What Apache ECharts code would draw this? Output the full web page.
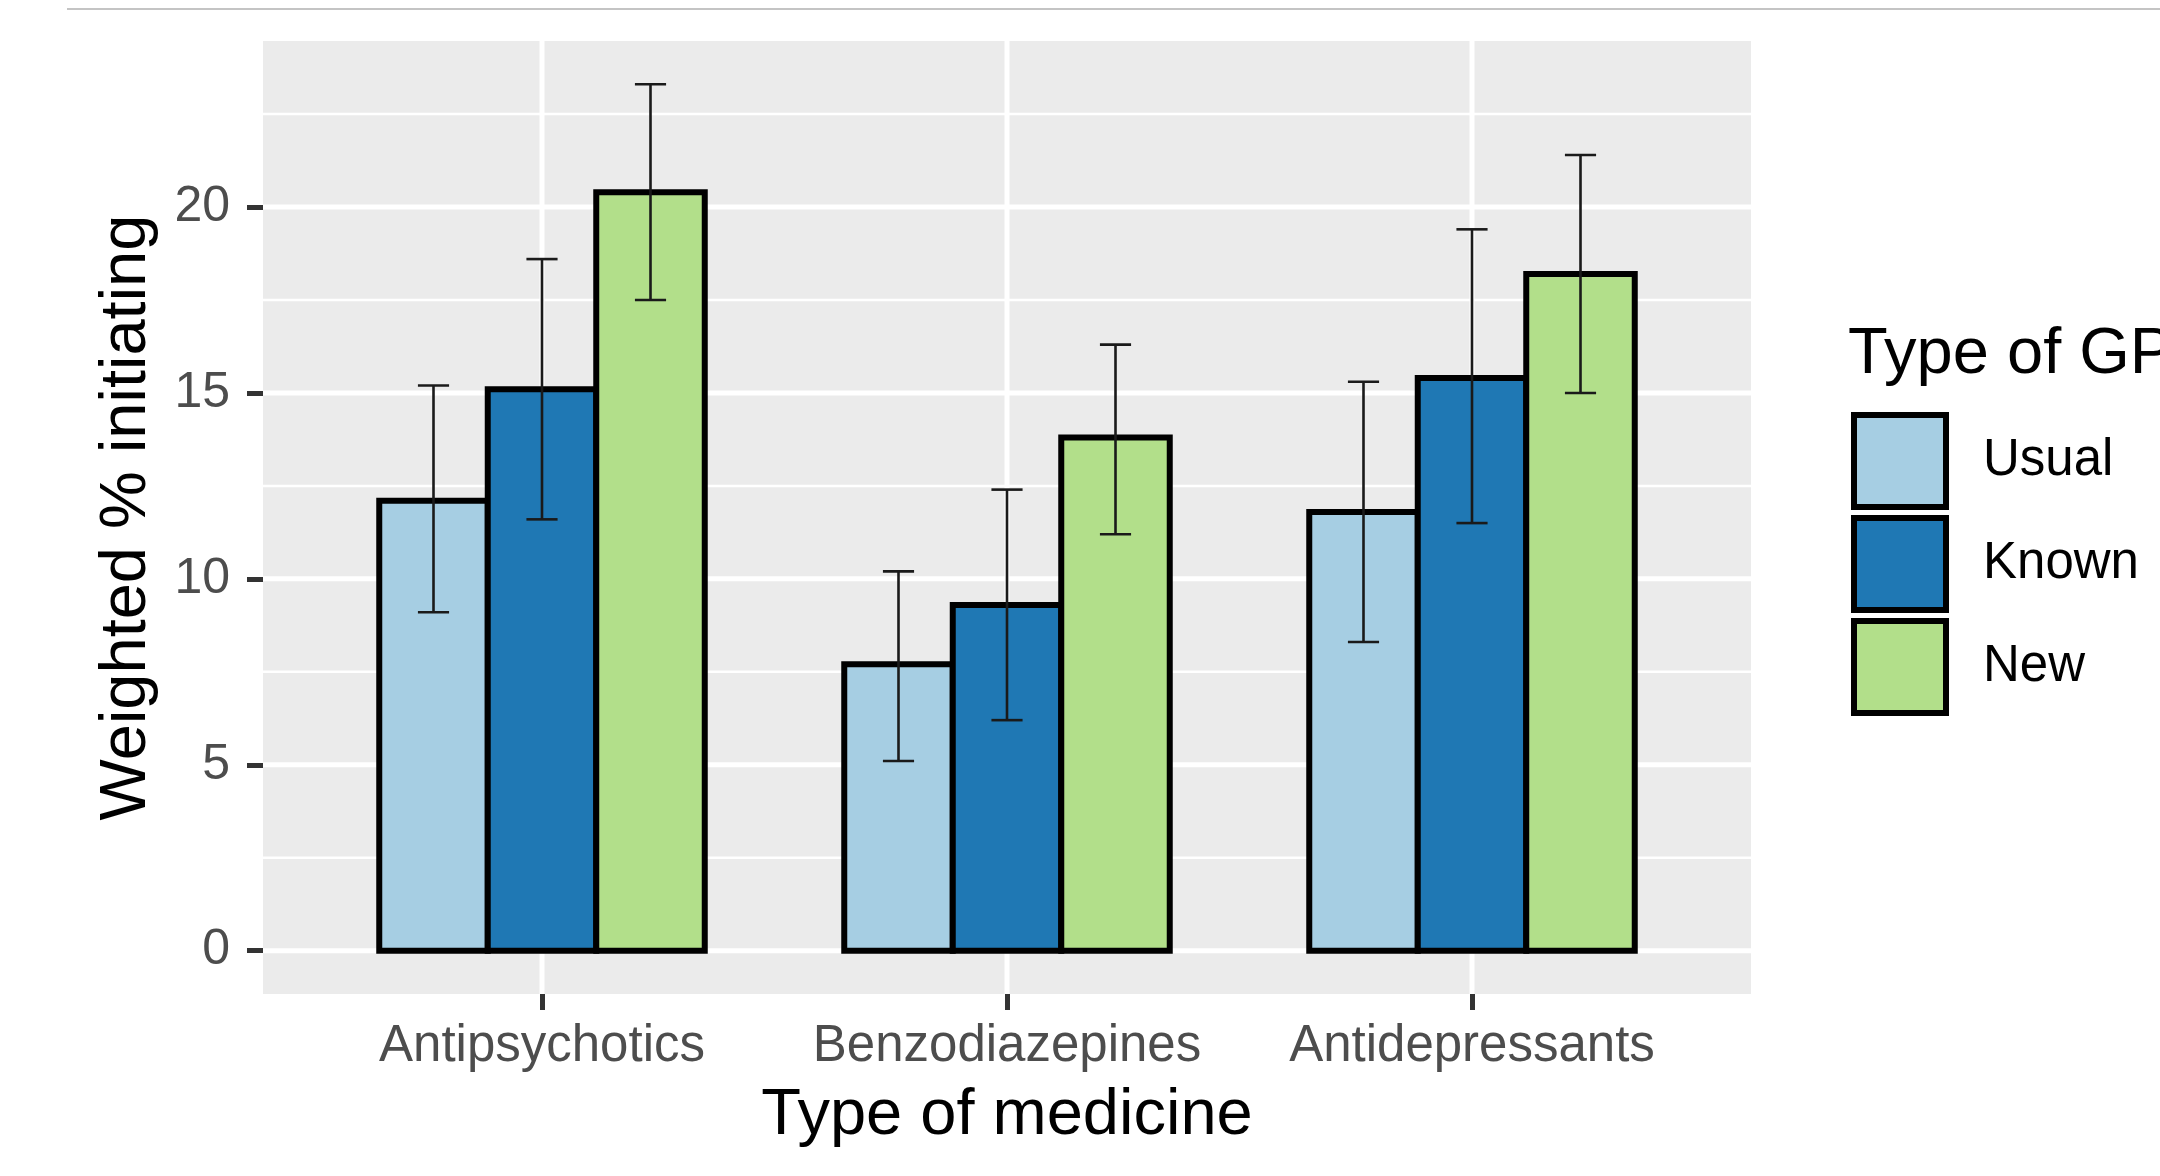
<!DOCTYPE html>
<html><head><meta charset="utf-8">
<script src="https://cdn.jsdelivr.net/npm/echarts@6/dist/echarts.min.js"></script>
<style>html,body{margin:0;padding:0;background:#fff}#c{width:2160px;height:1176px}</style>
</head><body><div id="c"></div>
<script>
const categories = ['Antipsychotics', 'Benzodiazepines', 'Antidepressants'];
const groups = ['Usual', 'Known', 'New'];
const usual = [12.1, 7.7, 11.8];
const usualLow = [9.1, 5.1, 8.3];
const usualHigh = [15.2, 10.2, 15.3];
const known = [15.1, 9.3, 15.4];
const knownLow = [11.6, 6.2, 11.5];
const knownHigh = [18.6, 12.4, 19.4];
const newGP = [20.4, 13.8, 18.2];
const newLow = [17.5, 11.2, 15.0];
const newHigh = [23.3, 16.3, 21.4];
const yTicks = [0, 5, 10, 15, 20];
const yMinorTicks = [2.5, 7.5, 12.5, 17.5, 22.5];
const xTicks = [1, 2, 3];

const FONT = '"Liberation Sans", Arial, sans-serif';
const colors = ['#A6CEE3', '#1F78B4', '#B2DF8A'];
const seriesVals = [[usual, usualLow, usualHigh], [known, knownLow, knownHigh], [newGP, newLow, newHigh]];
const maxErr = Math.max(...usualHigh, ...knownHigh, ...newHigh);
const yMin = -0.05 * maxErr, yMax = 1.05 * maxErr;
const xMin = 0.4, xMax = 3.6;
const bw = 0.7 / 3;
const capW = 0.067;

function gridSeries(name, vals, horizontal, width) {
  return {
    name: name, type: 'custom', z: 1, silent: true,
    data: vals.map(v => [v]),
    renderItem: function (params, api) {
      const v = api.value(0);
      let a, b;
      if (horizontal) { a = api.coord([xMin, v]); b = api.coord([xMax, v]); }
      else { a = api.coord([v, yMin]); b = api.coord([v, yMax]); }
      return { type: 'line', shape: { x1: a[0], y1: a[1], x2: b[0], y2: b[1] },
        style: { stroke: '#ffffff', lineWidth: width } };
    }
  };
}

const barSeries = groups.map((g, gi) => ({
  name: g, type: 'custom', z: 3,
  itemStyle: { color: colors[gi] },
  data: categories.map((c, i) => [i + 1, seriesVals[gi][0][i], seriesVals[gi][1][i], seriesVals[gi][2][i]]),
  renderItem: function (params, api) {
    const x = api.value(0) + (gi - 1) * bw;
    const y = api.value(1), lo = api.value(2), hi = api.value(3);
    const p0 = api.coord([x - bw / 2, y]);
    const p1 = api.coord([x + bw / 2, 0]);
    const ph = api.coord([x, hi]);
    const pl = api.coord([x, lo]);
    const half = api.coord([x + capW / 2, 0])[0] - api.coord([x, 0])[0];
    const es = { stroke: '#1a1a1a', lineWidth: 2.6 };
    return { type: 'group', children: [
      { type: 'rect', shape: { x: p0[0], y: p0[1], width: p1[0] - p0[0], height: p1[1] - p0[1] },
        style: { fill: colors[gi], stroke: '#000', lineWidth: 6 } },
      { type: 'line', z2: 5, shape: { x1: ph[0], y1: ph[1], x2: pl[0], y2: pl[1] }, style: es },
      { type: 'line', z2: 5, shape: { x1: ph[0] - half, y1: ph[1], x2: ph[0] + half, y2: ph[1] }, style: es },
      { type: 'line', z2: 5, shape: { x1: pl[0] - half, y1: pl[1], x2: pl[0] + half, y2: pl[1] }, style: es }
    ] };
  }
}));

const chart = echarts.init(document.getElementById('c'), null, { renderer: 'canvas' });
chart.setOption({
  backgroundColor: '#ffffff',
  animation: false,
  textStyle: { fontFamily: FONT },
  graphic: [{ type: 'line', shape: { x1: 67, y1: 9, x2: 2160, y2: 9 }, style: { stroke: '#c4c4c4', lineWidth: 2 } }],
  title: { text: 'Type of GP', left: 1848, top: 323, padding: 0,
    textStyle: { fontSize: 65, fontWeight: 'normal', color: '#000', fontFamily: FONT } },
  legend: {
    data: groups, left: 1851, top: 412, orient: 'vertical', padding: 0,
    itemWidth: 92, itemHeight: 92, itemGap: 5, icon: 'rect', selectedMode: false,
    itemStyle: { borderColor: '#000', borderWidth: 6 },
    textStyle: { fontSize: 51, color: '#000', fontFamily: FONT, padding: [9, 0, 0, 32] }
  },
  grid: { left: 263, top: 41, width: 1488, height: 953, show: true, backgroundColor: '#EBEBEB', borderWidth: 0, containLabel: false },
  xAxis: {
    type: 'value', min: xMin, max: xMax,
    name: 'Type of medicine', nameLocation: 'middle', nameGap: 90,
    nameTextStyle: { fontSize: 65, color: '#000', fontFamily: FONT },
    axisLine: { show: false, onZero: false },
    axisTick: { show: true, customValues: xTicks, length: 16, lineStyle: { color: '#333333', width: 5 } },
    axisLabel: { customValues: xTicks, fontSize: 51, color: '#4D4D4D', margin: 27, fontFamily: FONT,
      formatter: v => categories[Math.round(v) - 1] || '' },
    splitLine: { show: false }
  },
  yAxis: {
    type: 'value', min: yMin, max: yMax,
    name: 'Weighted % initiating', nameLocation: 'middle', nameGap: 103,
    nameTextStyle: { fontSize: 65, color: '#000', fontFamily: FONT },
    axisLine: { show: false, onZero: false },
    axisTick: { show: true, customValues: yTicks, length: 16, lineStyle: { color: '#333333', width: 5 } },
    axisLabel: { customValues: yTicks, fontSize: 50, color: '#4D4D4D', margin: 33, fontFamily: FONT },
    splitLine: { show: false }
  },
  series: [
    gridSeries('minorY', yMinorTicks, true, 2.5),
    gridSeries('majorY', yTicks, true, 5),
    gridSeries('majorX', xTicks, false, 5)
  ].concat(barSeries)
});
</script></body></html>
